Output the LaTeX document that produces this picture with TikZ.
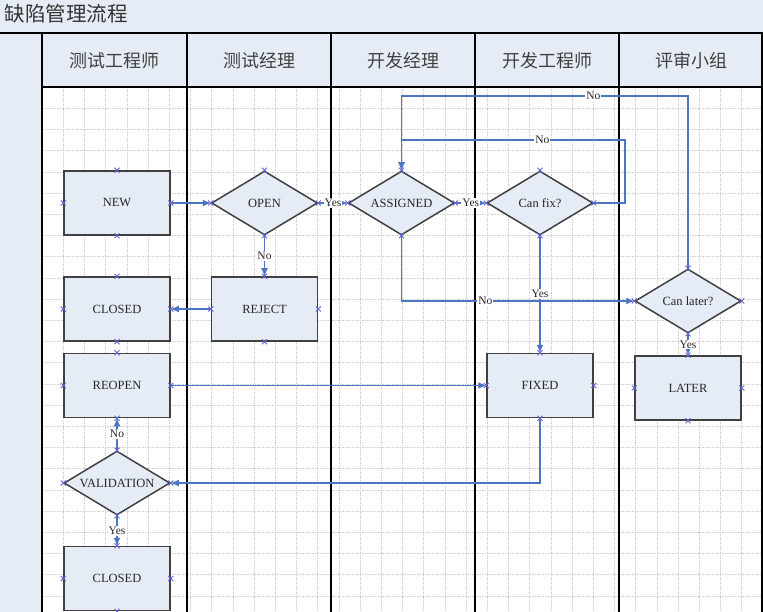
\documentclass[tikz,border=0pt]{standalone}
\usepackage{fontspec}
\setmainfont{Liberation Serif}
\newfontfamily\cjkfont{Noto Sans CJK SC}
\usepackage{xcolor}
\usepackage{tikz}
\usetikzlibrary{shapes.geometric}
\usetikzlibrary{arrows.meta}
\usetikzlibrary{calc}

\definecolor{bandblue}{RGB}{230,236,246}
\definecolor{lineblue}{RGB}{78,116,196}
\definecolor{cpblue}{RGB}{100,100,210}
\definecolor{gridgray}{RGB}{208,208,208}

\tikzset{
	proc/.style={rectangle, draw=black!75, line width=1.5pt, fill=bandblue, minimum width=106pt, minimum height=64pt, inner sep=0pt, font=\fontsize{12.5}{14}\selectfont, text=black!85},
	decide/.style={diamond, aspect=1.66, draw=black!75, line width=1.5pt, fill=bandblue, minimum width=106pt, minimum height=64pt, inner sep=0pt, font=\fontsize{12.5}{14}\selectfont, text=black!85},
	conn/.style={draw=lineblue, line width=1.1pt, -{Latex[length=8pt,width=7pt]}},
	lbl/.style={fill=white, inner sep=1pt, font=\fontsize{11.5}{13}\selectfont, text=black!85},
	cpmark/.style={draw=cpblue, line width=0.9pt},
	lane/.style={draw=black, line width=1.3pt},
	gridline/.style={draw=gridgray, line width=0.5pt, dash pattern=on 1.5pt off 1pt},
	hdr/.style={font=\cjkfont\fontsize{18}{21}\selectfont, text=black!75}
}

\begin{document}
\begin{tikzpicture}[x=1pt, y=-1pt]
	
	\useasboundingbox (0,0) rectangle (763,612);
	
	\fill [bandblue] (0,0) rectangle (763,87);
	\fill [bandblue] (0,33) rectangle (42,612);
	\fill [white] (42,87) rectangle (762,612);
	\node [anchor=west, font=\cjkfont\fontsize{20.5}{24}\selectfont, text=black!80] (title) at (1,14) {缺陷管理流程};
	
	\foreach \gx in {0,...,33}
		\draw [gridline] ({42+21.2*\gx},87) -- ({42+21.2*\gx},612);
	\foreach \gy in {0,...,24}
		\draw [gridline] (42,{87+21.2*\gy}) -- (762,{87+21.2*\gy});
	
	\draw [black, line width=2pt] (0,33) -- (763,33);
	\draw [lane] (42,87) -- (762,87);
	\foreach \lx in {42,187,331,475,619,762}
		\draw [lane] (\lx,33) -- (\lx,612);
	
	\node [hdr] (hdrtester) at (114.5,61) {测试工程师};
	\node [hdr] (hdrtestmgr) at (259,61) {测试经理};
	\node [hdr] (hdrdevmgr) at (403,61) {开发经理};
	\node [hdr] (hdrdev) at (547,61) {开发工程师};
	\node [hdr] (hdrreview) at (691,61) {评审小组};
	
	\node [proc] (new) at (117,203) {NEW};
	\node [decide] (open) at (264.5,203) {OPEN};
	\node [decide] (assigned) at (401.5,203) {ASSIGNED};
	\node [decide] (canfix) at (540,203) {Can fix?};
	\node [proc] (closedA) at (117,309) {CLOSED};
	\node [proc] (reject) at (264.5,309) {REJECT};
	\node [decide] (canlater) at (688,301) {Can later?};
	\node [proc] (reopen) at (117,385.5) {REOPEN};
	\node [proc] (fixed) at (540,385.5) {FIXED};
	\node [proc] (later) at (688,388) {LATER};
	\node [decide] (validation) at (117,483) {VALIDATION};
	\node [proc] (closedB) at (117,578.5) {CLOSED};
	
	\coordinate (fixloop) at (625,140);
	\coordinate (latertop) at (688,96);
	
	\draw [conn] (new.east) -- (open.west);
	\draw [conn] (open.east) -- node [lbl] {Yes} (assigned.west);
	\draw [conn] (open.south) -- node [lbl] {No} (reject.north);
	\draw [conn] (reject.west) -- (closedA.east);
	\draw [conn] (assigned.east) -- node [lbl] {Yes} (canfix.west);
	\draw [conn] (canfix.east) -| (fixloop) -- node [lbl, pos=0.37] {No} (fixloop -| assigned.north) -- (assigned.north);
	\draw [conn] (canlater.north) -- (latertop) -- node [lbl, pos=0.33] {No} (latertop -| assigned.north) -- (assigned.north);
	\draw [conn] (assigned.south) |- node [lbl, pos=0.68] {No} (canlater.west);
	\draw [conn] (canfix.south) -- node [lbl] {Yes} (fixed.north);
	\draw [conn] (canlater.south) -- node [lbl] {Yes} (later.north);
	\draw [conn] (reopen.east) -- (fixed.west);
	\draw [conn] (fixed.south) |- (validation.east);
	\draw [conn] (validation.north) -- node [lbl] {No} (reopen.south);
	\draw [conn] (validation.south) -- node [lbl] {Yes} (closedB.north);
	
	\foreach \n in {new,open,assigned,canfix,closedA,reject,reopen,fixed,canlater,later,validation,closedB}
		\foreach \a in {north,south,east,west}
			\draw [cpmark] (\n.\a) ++(-2.5,-2.5) -- ++(5,5) ++(-5,0) -- ++(5,-5);
	
\end{tikzpicture}
\end{document}
